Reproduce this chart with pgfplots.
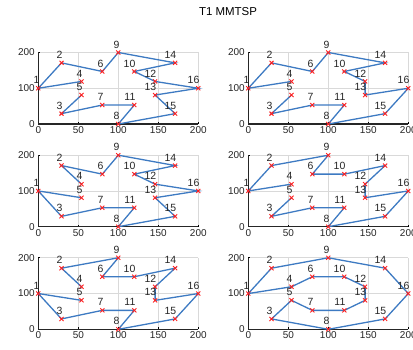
\documentclass[border=0pt]{standalone}
\usepackage{fontspec}
\setmainfont{Liberation Sans}
\usepackage{pgfplots}
\usepackage{pgfplotstable}
\pgfplotsset{compat=1.18}
\definecolor{mblue}{rgb}{0.24,0.48,0.76}
\definecolor{mred}{rgb}{1,0.12,0.12}
\pgfplotstableread{
x y l
0 100 1
29 171 2
29 29 3
54 119 4
54 81 5
80 147 6
80 53 7
100 0 8
100 200 9
120 147 10
120 53 11
146 119 12
146 81 13
171 171 14
171 29 15
200 100 16
}\pts
\pgfplotsset{mm/.style={scale only axis, width=160bp, height=71.5bp,
  xmin=0,xmax=200,ymin=0,ymax=200,
  xtick={0,50,100,150,200}, ytick={0,100,200},
  axis x line*=bottom, axis y line*=left,
  axis line style={black!85, line width=1.4bp},
  grid=major, grid style={black!15, line width=0.6bp},
  tick align=inside, major tick length=2bp, tick style={black, line width=0.8bp},
  ticklabel style={font=\fontsize{10}{10}\selectfont, text=black!85},
  xticklabel style={yshift=1bp},
  /pgf/number format/assume math mode=true,
  clip=false, anchor=south west},
  route/.style={mblue, line width=1.3bp, no marks},
  pts/.style={only marks, mark=x, mark size=2.9bp, mred, line width=0.9bp,
    nodes near coords, point meta=explicit symbolic,
    nodes near coords style={anchor=east, xshift=1.5bp, yshift=8bp,
      text=black!85, font=\fontsize{10.5}{10.5}\selectfont, inner sep=0pt}}}
\newcommand{\panel}[3]{%
\begin{axis}[mm, at={(#1,#2)}]
\addplot[route] coordinates {#3};
\addplot[pts] table[x=x,y=y,meta=l] {\pts};
\end{axis}}
\begin{document}
\begin{tikzpicture}
\useasboundingbox (0,0) rectangle (413bp,350bp);
\node at (228bp,338bp) {\fontsize{11.5}{11.5}\selectfont T1 MMTSP};
% row 1
\panel{38.3bp}{226bp}{(54,119)(0,100)(29,171)(80,147)(100,200)(171,171)(120,147)(146,119)(200,100)(146,81)(171,29)(100,0)(120,53)(80,53)(29,29)(54,81)}
\panel{248.3bp}{226bp}{(54,119)(0,100)(29,171)(80,147)(100,200)(171,171)(120,147)(146,119)(146,81)(200,100)(171,29)(100,0)(120,53)(80,53)(29,29)(54,81)}
% row 2
\panel{38.3bp}{123.3bp}{(54,81)(0,100)(29,29)(80,53)(120,53)(100,0)(171,29)(146,81)(200,100)(146,119)(120,147)(171,171)(100,200)(80,147)(29,171)(54,119)}
\panel{248.3bp}{123.3bp}{(54,119)(0,100)(29,171)(100,200)(80,147)(120,147)(171,171)(146,119)(146,81)(200,100)(171,29)(100,0)(120,53)(80,53)(29,29)(54,81)}
% row 3
\panel{38.3bp}{20.7bp}{(54,81)(0,100)(29,29)(80,53)(120,53)(100,0)(171,29)(200,100)(146,81)(146,119)(171,171)(120,147)(80,147)(100,200)(29,171)(54,119)}
\panel{248.3bp}{20.7bp}{(0,100)(29,171)(100,200)(171,171)(200,100)(171,29)(100,0)(29,29)(54,81)(80,53)(120,53)(146,81)(146,119)(120,147)(80,147)(54,119)(0,100)}
\end{tikzpicture}
\end{document}
